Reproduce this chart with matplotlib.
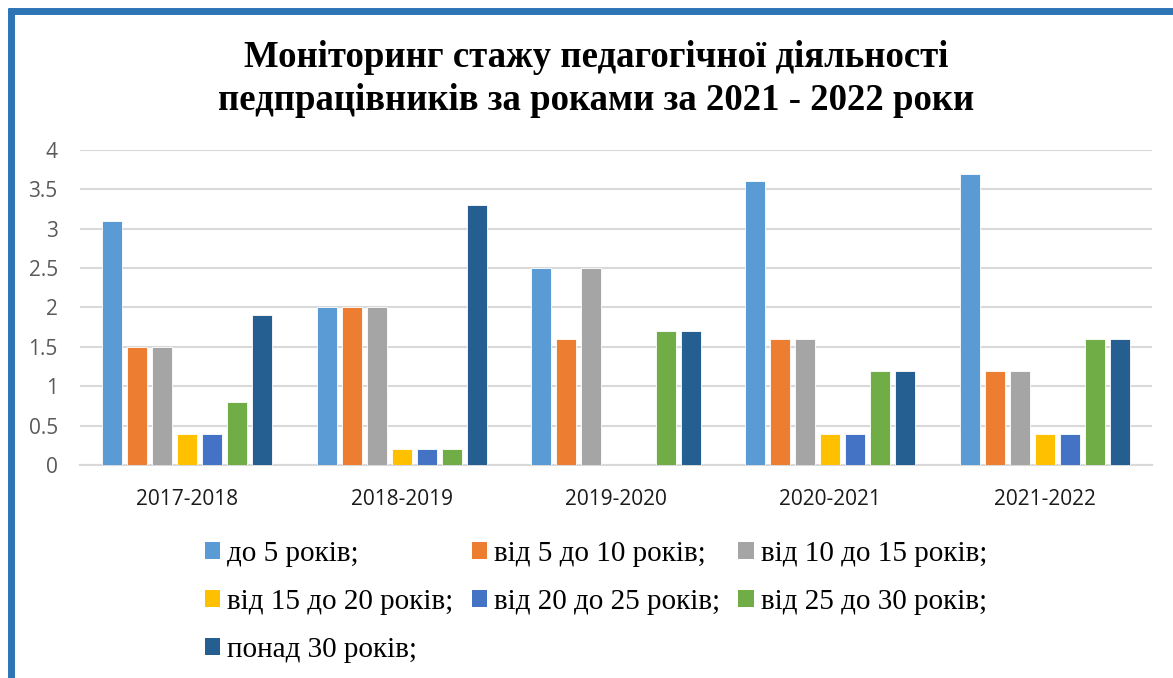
import matplotlib
matplotlib.use("Agg")
import matplotlib.pyplot as plt
import numpy as np
from matplotlib.patches import Patch
from matplotlib.lines import Line2D

categories = ["2017-2018", "2018-2019", "2019-2020", "2020-2021", "2021-2022"]
series_names = ["до 5 років;", "від 5 до 10 років;", "від 10 до 15 років;",
                "від 15 до 20 років;", "від 20 до 25 років;", "від 25 до 30 років;",
                "понад 30 років;"]
s_0_5 = [3.1, 2.0, 2.5, 3.6, 3.7]
s_5_10 = [1.5, 2.0, 1.6, 1.6, 1.2]
s_10_15 = [1.5, 2.0, 2.5, 1.6, 1.2]
s_15_20 = [0.4, 0.2, 0.0, 0.4, 0.4]
s_20_25 = [0.4, 0.2, 0.0, 0.4, 0.4]
s_25_30 = [0.8, 0.2, 1.7, 1.2, 1.6]
s_30p = [1.9, 3.3, 1.7, 1.2, 1.6]
series = [s_0_5, s_5_10, s_10_15, s_15_20, s_20_25, s_25_30, s_30p]
colors = ["#5B9BD5", "#ED7D31", "#A5A5A5", "#FFC000", "#4472C4", "#70AD47", "#255E91"]
yticks = [0, 0.5, 1, 1.5, 2, 2.5, 3, 3.5, 4]
ytick_labels = ["0", "0.5", "1", "1.5", "2", "2.5", "3", "3.5", "4"]
title = "Моніторинг стажу педагогічної діяльності\nпедпрацівників за роками за 2021 - 2022 роки"

W, H = 1173, 678
fig = plt.figure(figsize=(W / 100, H / 100), dpi=100)
ax = fig.add_axes([80 / W, 1 - 465 / H, (1152 - 80) / W, (465 - 150) / H])

x = np.arange(len(categories))
n = len(series)
step = 0.1166
bw = 0.094
for i, (vals, c) in enumerate(zip(series, colors)):
    ax.bar(x + (i - (n - 1) / 2) * step, vals, width=bw, color=c,
           edgecolor="white", linewidth=0.6, zorder=3)

ax.set_xlim(-0.5, len(categories) - 0.5)
ax.set_ylim(0, 4)
ax.set_yticks(yticks)
ax.set_yticklabels(ytick_labels)
ax.set_xticks(x)
ax.set_xticklabels(categories)
ax.grid(axis="y", color="#D9D9D9", linewidth=1.5, zorder=0)
for s in ["top", "right", "left"]:
    ax.spines[s].set_visible(False)
ax.spines["bottom"].set_color("#D9D9D9")
ax.spines["bottom"].set_linewidth(1.5)
ax.tick_params(axis="y", length=0, labelsize=15, labelcolor="#595959", pad=16)
ax.tick_params(axis="x", length=0, labelsize=15, labelcolor="#1A1A1A", pad=17)
for lab in ax.get_xticklabels() + ax.get_yticklabels():
    lab.set_family("Open Sans")

fig.text(596 / W, 1 - 79 / H, title, ha="center", va="center",
         family="Liberation Serif", fontweight="bold", fontsize=26.5, linespacing=1.3)

handles = [Patch(facecolor=c, edgecolor="none") for c in colors]
order = [0, 3, 6, 1, 4, 2, 5]
leg = fig.legend([handles[i] for i in order], [series_names[i] for i in order],
                 ncol=3, loc="upper left", bbox_to_anchor=(205 / W, 1 - 541 / H),
                 frameon=False, prop={"family": "Liberation Serif", "size": 21},
                 handlelength=0.52, handleheight=0.52, handletextpad=0.25,
                 columnspacing=0.62, labelspacing=0.76, borderpad=0, borderaxespad=0)

# blue frame (left and top)
fig.add_artist(Line2D([10.5 / W, 10.5 / W], [0, 1 - 8 / H], color="#2E75B6",
                      linewidth=5, transform=fig.transFigure, solid_capstyle="butt"))
fig.add_artist(Line2D([8 / W, 1], [1 - 10.5 / H, 1 - 10.5 / H], color="#2E75B6",
                      linewidth=5, transform=fig.transFigure, solid_capstyle="butt"))

fig.savefig("out.png", dpi=100)
